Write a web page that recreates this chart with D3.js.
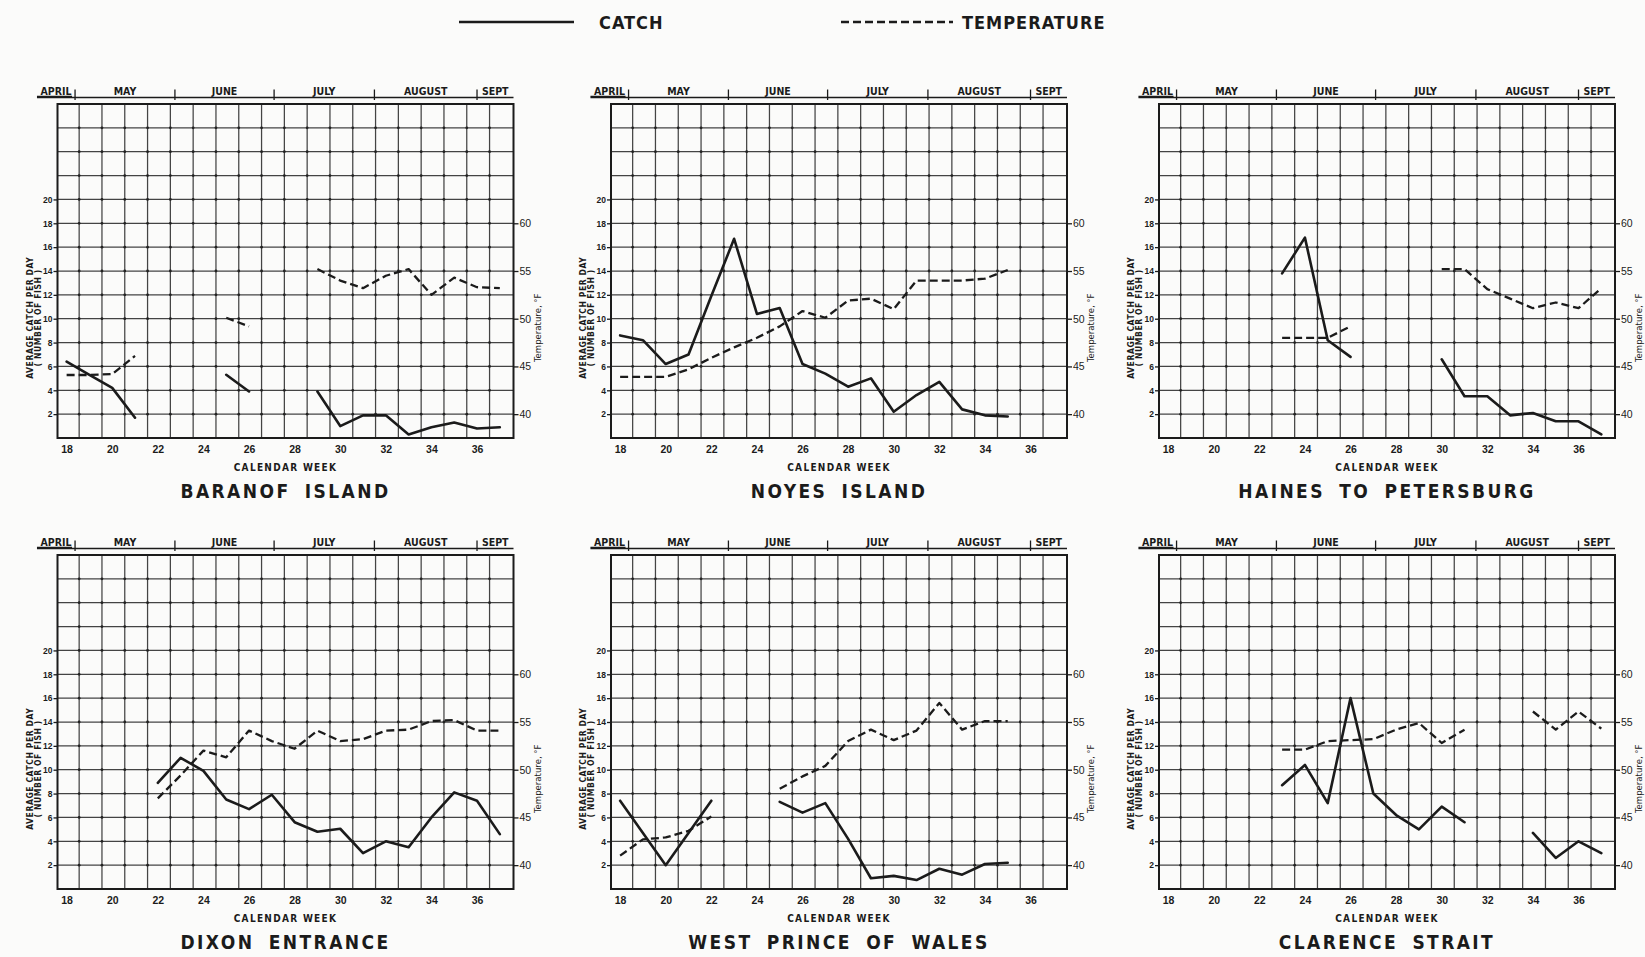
<!DOCTYPE html>
<html>
<head>
<meta charset="utf-8">
<script src="https://cdn.jsdelivr.net/npm/d3@7"></script>
<style>
  html, body { margin: 0; padding: 0; background: #fbfbfa; }
  svg { display: block; font-family: "DejaVu Sans Condensed", "DejaVu Sans", sans-serif; font-stretch: condensed; }
</style>
</head>
<body>
<svg id="fig" width="1645" height="957"></svg>
<script>
// Calendar weeks (x categories) and tick labels
const weeks = [18, 19, 20, 21, 22, 23, 24, 25, 26, 27, 28, 29, 30, 31, 32, 33, 34, 35, 36, 37];
const weekTicks = [18, 20, 22, 24, 26, 28, 30, 32, 34, 36];
const catchTicks = [2, 4, 6, 8, 10, 12, 14, 16, 18, 20];
const catchGrid = [2, 4, 6, 8, 10, 12, 14, 16, 18, 20, 22, 24, 26];
const tempTicks = [40, 45, 50, 55, 60];
const months = ["APRIL", "MAY", "JUNE", "JULY", "AUGUST", "SEPT"];
const monthBreaks = [18.37, 22.75, 27.1, 31.5, 36.0];

// Average catch per day (fish) and temperature (°F) by week; null = no observation
const baranofCatch  = [6.4, 5.3, 4.2, 1.7, null, null, null, 5.3, 3.9, null, null, 3.9, 1.0, 1.9, 1.9, 0.3, 0.9, 1.3, 0.8, 0.9];
const baranofTemp   = [44.1, 44.1, 44.2, 46.1, null, null, null, 50.1, 49.2, null, null, 55.2, 54.0, 53.2, 54.5, 55.2, 52.5, 54.3, 53.3, 53.2];

const noyesCatch    = [8.6, 8.2, 6.2, 7.0, 11.9, 16.7, 10.4, 10.9, 6.2, 5.4, 4.3, 5.0, 2.2, 3.6, 4.7, 2.4, 1.9, 1.8, null, null];
const noyesTemp     = [43.9, 43.9, 43.9, 44.7, 45.9, 47.0, 48.0, 49.2, 50.8, 50.1, 51.9, 52.1, 51.0, 54.0, 54.0, 54.0, 54.2, 55.1, null, null];

const hainesCatch   = [null, null, null, null, null, 13.8, 16.8, 8.2, 6.8, null, null, null, 6.6, 3.5, 3.5, 1.9, 2.1, 1.4, 1.4, 0.3];
const hainesTemp    = [null, null, null, null, null, 48.0, 48.0, 48.0, 49.2, null, null, null, 55.2, 55.2, 53.1, 52.1, 51.1, 51.7, 51.1, 53.2];

const dixonCatch    = [null, null, null, null, 8.9, 11.0, 9.9, 7.5, 6.7, 7.9, 5.6, 4.8, 5.05, 3.0, 4.0, 3.5, 6.0, 8.1, 7.4, 4.6];
const dixonTemp     = [null, null, null, null, 47.0, 49.4, 52.0, 51.3, 54.1, 53.0, 52.2, 54.1, 53.0, 53.2, 54.1, 54.2, 55.1, 55.2, 54.1, 54.1];

const wpwCatch      = [7.4, 4.7, 2.0, 4.7, 7.4, null, null, 7.3, 6.4, 7.2, 4.2, 0.9, 1.1, 0.75, 1.7, 1.2, 2.1, 2.2, null, null];
const wpwTemp       = [41.0, 42.7, 42.9, 43.6, 45.1, null, null, 48.0, 49.3, 50.4, 53.0, 54.2, 53.1, 54.1, 57.0, 54.2, 55.1, 55.1, null, null];

const clarenceCatch = [null, null, null, null, null, 8.7, 10.4, 7.2, 16.0, 8.0, 6.2, 5.0, 6.9, 5.6, null, null, 4.7, 2.6, 4.0, 3.0];
const clarenceTemp  = [null, null, null, null, null, 52.1, 52.1, 53.0, 53.1, 53.2, 54.2, 54.9, 52.8, 54.2, null, null, 56.1, 54.2, 56.1, 54.3];

const regionNames = ["BARANOF ISLAND", "NOYES ISLAND", "HAINES TO PETERSBURG",
                     "DIXON ENTRANCE", "WEST PRINCE OF WALES", "CLARENCE STRAIT"];
const regionCatch = [baranofCatch, noyesCatch, hainesCatch, dixonCatch, wpwCatch, clarenceCatch];
const regionTemp  = [baranofTemp, noyesTemp, hainesTemp, dixonTemp, wpwTemp, clarenceTemp];

// ---- layout ----
const INK = "#1b1b1b", GRID = "#444";
const W = 456, H = 334;
const colX = [57.5, 611, 1159];
const rowY = [104, 555];

const svg = d3.select("#fig");

// Legend
const legend = svg.append("g").attr("fill", INK);
legend.append("line").attr("x1", 459).attr("x2", 574).attr("y1", 22).attr("y2", 22)
  .attr("stroke", INK).attr("stroke-width", 2.4);
legend.append("text").attr("x", 599).attr("y", 29).attr("font-size", 18).attr("font-weight", "bold")
  .attr("letter-spacing", 1).text("CATCH");
legend.append("line").attr("x1", 841).attr("x2", 953).attr("y1", 22).attr("y2", 22)
  .attr("stroke", INK).attr("stroke-width", 2.4).attr("stroke-dasharray", "8,4");
legend.append("text").attr("x", 962).attr("y", 29).attr("font-size", 18).attr("font-weight", "bold")
  .attr("letter-spacing", 1).text("TEMPERATURE");

regionNames.forEach((name, k) => {
  const px = colX[k % 3], py = rowY[Math.floor(k / 3)];
  const g = svg.append("g").attr("transform", `translate(${px},${py})`);

  const x = d3.scaleLinear().domain([17.6, 37.6]).range([0, W]);
  const yC = d3.scaleLinear().domain([0, 28]).range([H, 0]);
  const yT = d3.scaleLinear().domain([37.5, 72.5]).range([H, 0]);

  // month header band
  const hdrY = -6.5;
  const hdrStart = 16.7, hdrEnd = 37.6;
  const bounds = [hdrStart, ...monthBreaks, hdrEnd];
  const hdr = g.append("g");
  hdr.append("line").attr("x1", x(hdrStart)).attr("x2", x(hdrEnd)).attr("y1", hdrY).attr("y2", hdrY)
    .attr("stroke", INK).attr("stroke-width", 1.4);
  hdr.append("line").attr("x1", x(hdrStart)).attr("x2", x(monthBreaks[0]) - 3).attr("y1", hdrY - 1).attr("y2", hdrY - 1)
    .attr("stroke", INK).attr("stroke-width", 1.6);
  hdr.selectAll("line.brk").data(monthBreaks).join("line").attr("class", "brk")
    .attr("x1", d => x(d)).attr("x2", d => x(d)).attr("y1", hdrY - 8).attr("y2", hdrY + 2.5)
    .attr("stroke", INK).attr("stroke-width", 1.3);
  hdr.selectAll("text").data(months).join("text")
    .attr("x", (d, i) => x((bounds[i] + bounds[i + 1]) / 2))
    .attr("y", hdrY - 3).attr("text-anchor", "middle")
    .attr("font-size", 10.5).attr("font-weight", "bold").attr("fill", INK)
    .text(d => d);

  // grid
  const grid = g.append("g");
  const vLines = weeks.slice(0, 19).map(w => w + 0.55);
  grid.selectAll("line.v").data(vLines).join("line").attr("class", "v")
    .attr("x1", d => x(d)).attr("x2", d => x(d)).attr("y1", 0).attr("y2", H)
    .attr("stroke", GRID).attr("stroke-width", 1.25);
  grid.selectAll("line.h").data(catchGrid).join("line").attr("class", "h")
    .attr("x1", 0).attr("x2", W).attr("y1", d => yC(d)).attr("y2", d => yC(d))
    .attr("stroke", GRID).attr("stroke-width", 1.25);
  const crosses = [];
  vLines.forEach(v => catchGrid.forEach(c => crosses.push([v, c])));
  grid.selectAll("circle").data(crosses).join("circle")
    .attr("cx", d => x(d[0])).attr("cy", d => yC(d[1])).attr("r", 1.4).attr("fill", "#222");

  // frame
  g.append("rect").attr("width", W).attr("height", H).attr("fill", "none")
    .attr("stroke", INK).attr("stroke-width", 2);

  // left axis: catch
  const ax = g.append("g").call(d3.axisLeft(yC).tickValues(catchTicks).tickSize(4).tickPadding(1));
  ax.select(".domain").remove();
  ax.selectAll("line").attr("stroke", INK).attr("stroke-width", 1.3);
  ax.selectAll("text").attr("font-size", 8.5).attr("font-weight", "bold").attr("fill", INK)
    .attr("font-family", null);

  // right axis: temperature
  const ar = g.append("g").attr("transform", `translate(${W},0)`)
    .call(d3.axisRight(yT).tickValues(tempTicks).tickSize(5).tickPadding(1));
  ar.select(".domain").remove();
  ar.selectAll("line").attr("stroke", INK).attr("stroke-width", 1.3);
  ar.selectAll("text").attr("font-size", 10.5).attr("fill", INK).attr("font-family", null);

  // bottom axis: weeks
  const ab = g.append("g").attr("transform", `translate(0,${H})`)
    .call(d3.axisBottom(x).tickValues(weekTicks).tickSize(0).tickPadding(8));
  ab.select(".domain").remove();
  ab.selectAll("text").attr("font-size", 10.5).attr("font-weight", "bold").attr("fill", INK)
    .attr("font-family", null);

  // axis titles
  g.append("text").attr("x", W / 2).attr("y", H + 33).attr("text-anchor", "middle")
    .attr("font-size", 10).attr("font-weight", "bold").attr("letter-spacing", 1.3).attr("fill", INK)
    .text("CALENDAR WEEK");
  const lt = g.append("g").attr("transform", `translate(-25,${H * 0.64}) rotate(-90)`)
    .attr("font-size", 8.5).attr("font-weight", "bold").attr("fill", INK).attr("text-anchor", "middle")
    .attr("letter-spacing", 0.6);
  lt.append("text").attr("y", 0).text("AVERAGE CATCH PER DAY");
  lt.append("text").attr("y", 8).text("( NUMBER OF FISH )");
  g.append("text").attr("transform", `translate(${W + 27},${H * 0.67}) rotate(-90)`)
    .attr("text-anchor", "middle").attr("font-size", 9.5).attr("fill", INK)
    .text("Temperature, °F");

  // region title
  g.append("text").attr("x", W / 2).attr("y", H + 60).attr("text-anchor", "middle")
    .attr("font-size", 19).attr("font-weight", "bold").attr("letter-spacing", 2.4)
    .attr("word-spacing", 6).attr("fill", INK).text(name);

  // series
  const lineC = d3.line().defined(v => v != null).x((v, i) => x(weeks[i])).y(v => yC(v));
  const lineT = d3.line().defined(v => v != null).x((v, i) => x(weeks[i])).y(v => yT(v));
  g.append("path").datum(regionTemp[k]).attr("d", lineT).attr("fill", "none")
    .attr("stroke", INK).attr("stroke-width", 2.3).attr("stroke-dasharray", "8,4")
    .attr("stroke-linejoin", "round");
  g.append("path").datum(regionCatch[k]).attr("d", lineC).attr("fill", "none")
    .attr("stroke", INK).attr("stroke-width", 2.6)
    .attr("stroke-linejoin", "round").attr("stroke-linecap", "round");
});
</script>
</body>
</html>
